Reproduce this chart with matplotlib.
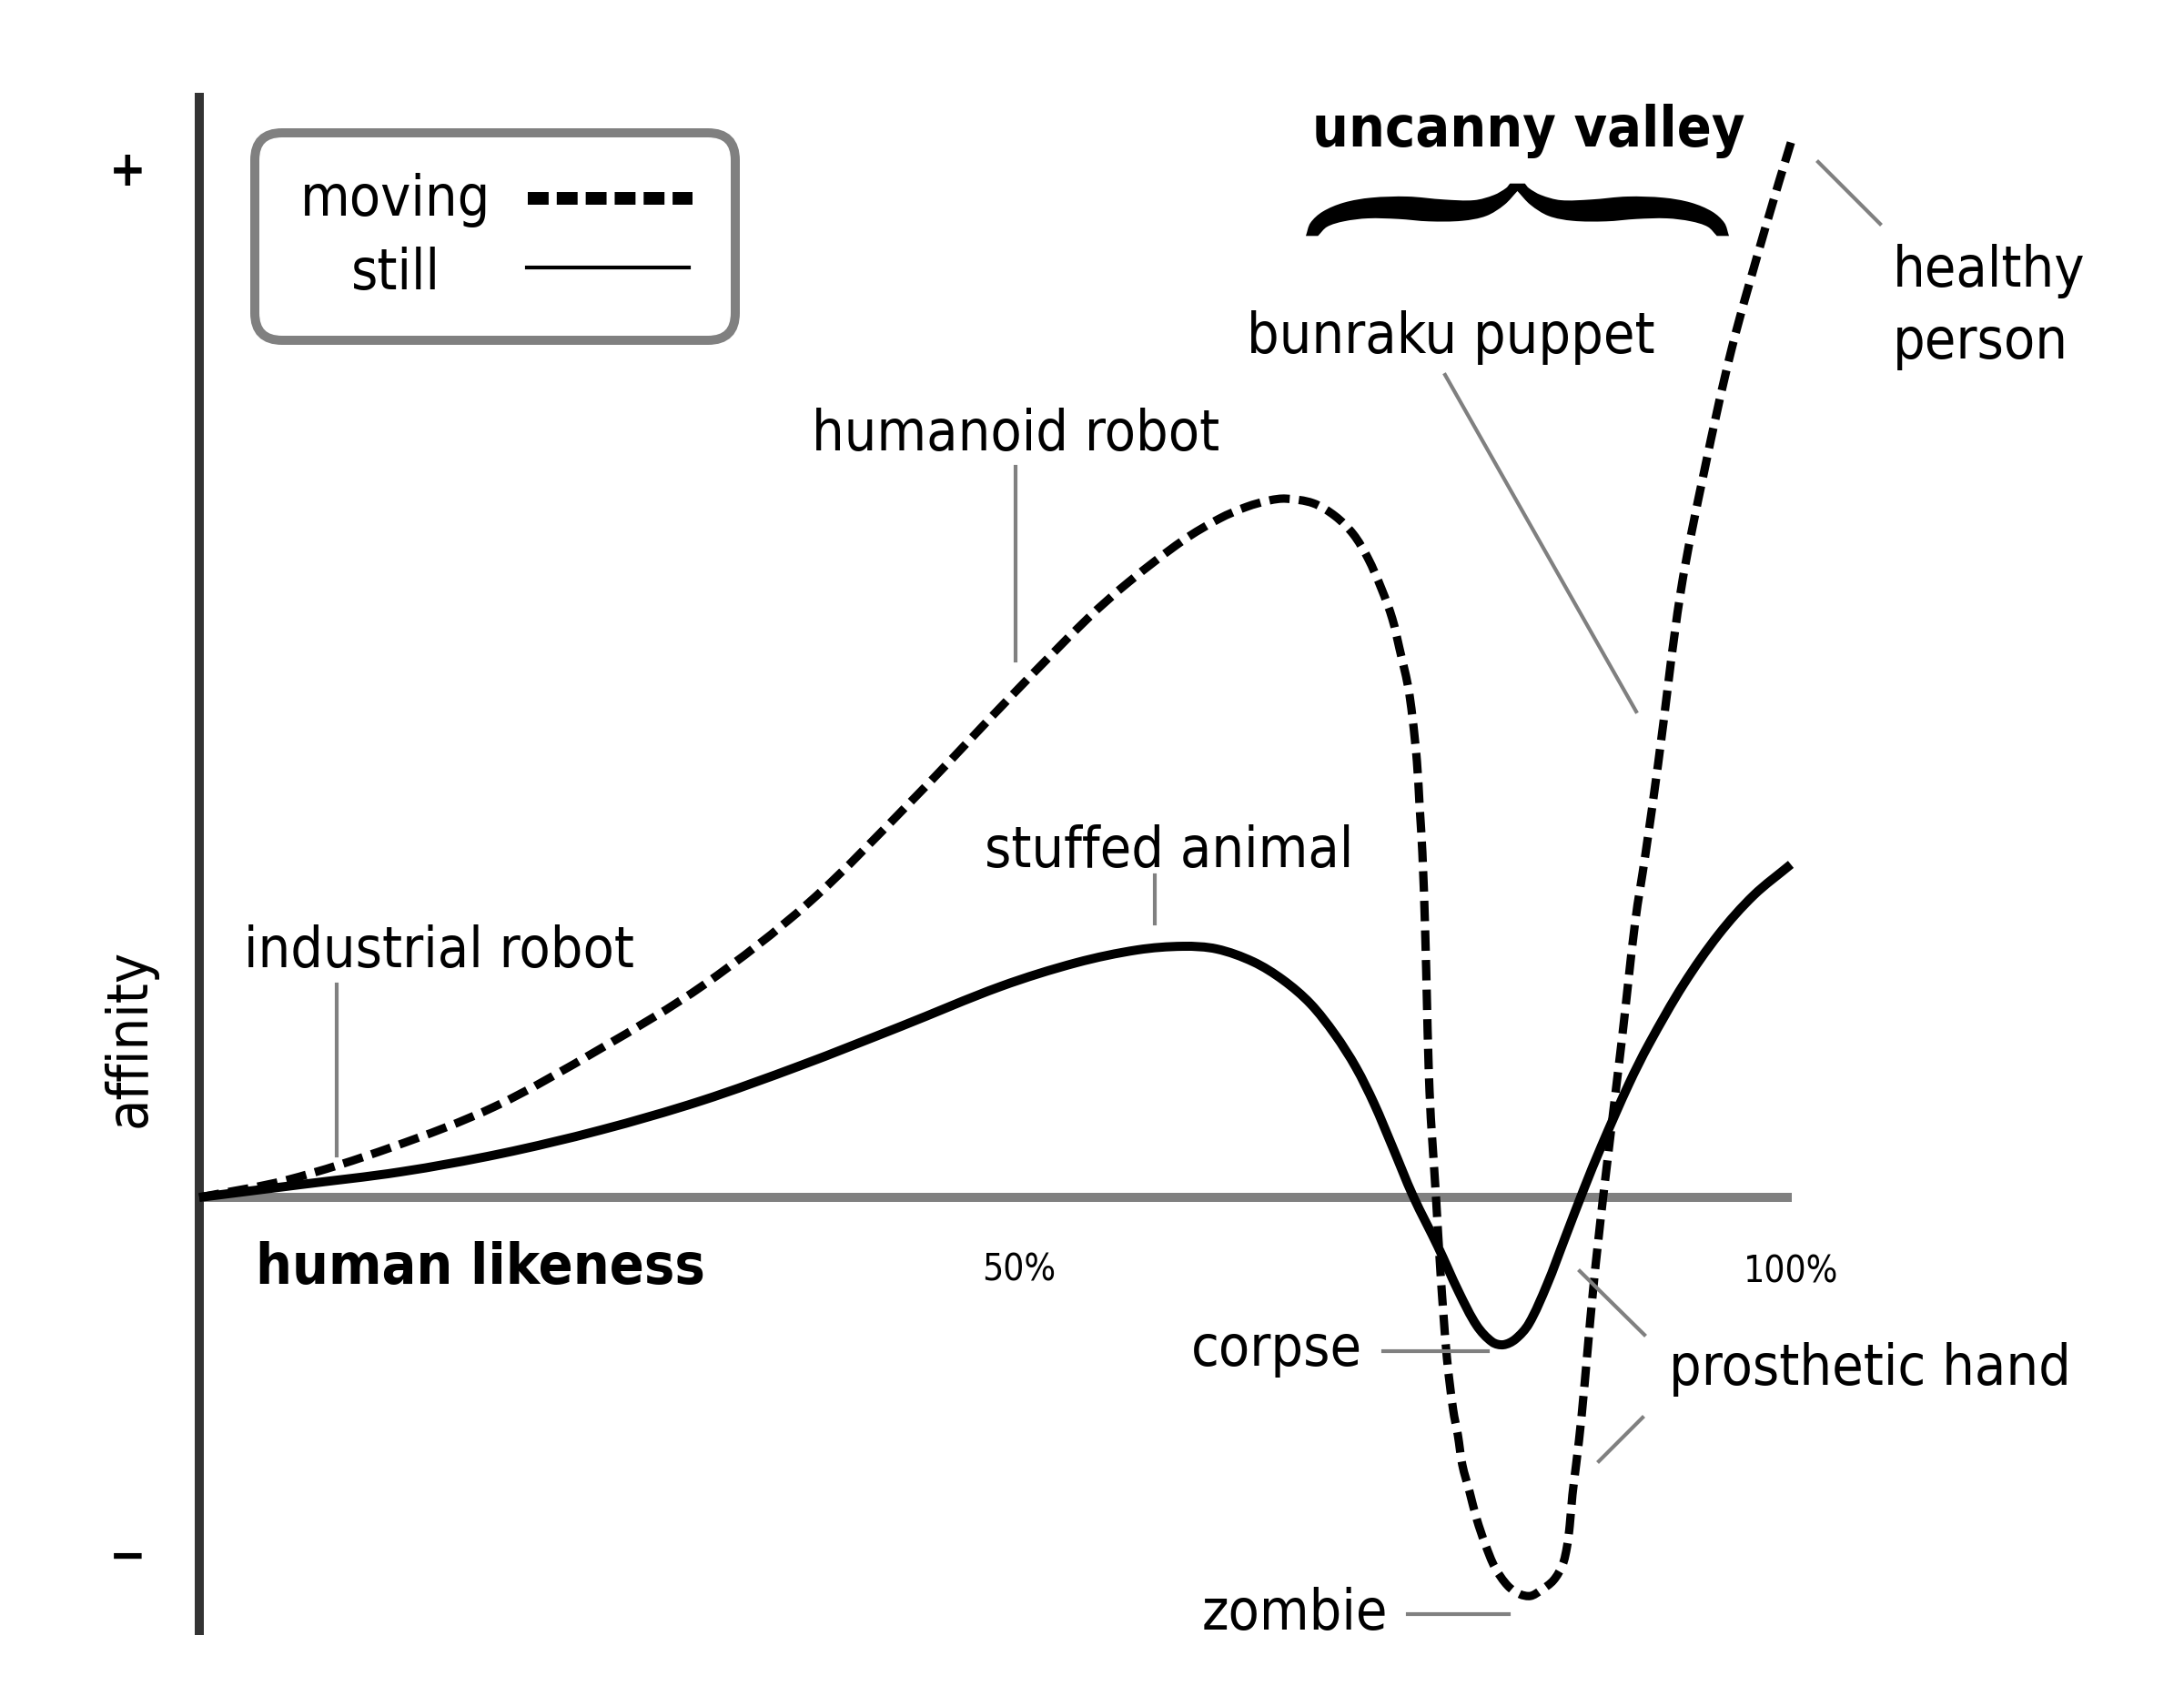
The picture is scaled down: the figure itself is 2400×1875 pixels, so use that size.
import numpy as np
import matplotlib.pyplot as plt
import matplotlib.transforms as mtransforms
from matplotlib.path import Path
from matplotlib.patches import PathPatch, FancyBboxPatch
from matplotlib.lines import Line2D

# values: human likeness (%) vs affinity (+ = 100)
moving_x = [0, 5.47, 12.02, 18.51, 25.06, 31.61, 38.15, 44.70, 51.20, 55.58,
            58.14, 61.56, 63.84, 65.55, 66.97, 68.00, 69.70, 71.07, 72.21, 73.12,
            73.98, 74.66, 75.11, 75.63, 75.91, 76.20, 76.37, 76.54, 76.71, 76.99,
            77.39, 77.68, 78.08, 78.47, 78.76, 79.04, 79.50, 79.95, 80.47, 81.09,
            81.89, 82.63, 83.31, 83.94, 84.74, 85.31, 85.59, 85.76, 85.93, 86.16,
            86.50, 87.24, 87.87, 89.01, 89.86, 90.49, 91.29, 92.71, 94.19, 95.90,
            98.01, 99.72]
moving_y = [0, 1.68, 4.86, 8.84, 14.41, 20.69, 28.65, 38.73, 49.34, 56.23,
            59.77, 63.84, 65.96, 67.11, 67.73, 67.90, 67.46, 66.22, 64.46, 62.16,
            59.15, 56.23, 53.32, 49.78, 46.77, 42.35, 37.93, 33.51, 26.17, 10.26,
            0.09, -7.43, -15.65, -20.69, -23.08, -25.99, -28.65, -31.30, -33.69, -35.99,
            -37.75, -38.55, -38.73, -38.20, -37.22, -35.72, -33.95, -31.92, -28.91, -25.99,
            -21.31, -8.75, 0.27, 15.12, 26.79, 33.24, 42.09, 58.89, 70.65, 82.49,
            94.25, 103.09]
still_x = [0, 6.32, 12.59, 18.85, 25.11, 31.38, 37.64, 43.91, 50.17, 54.90,
           58.71, 61.56, 63.67, 65.95, 67.82, 69.53, 71.07, 72.38, 73.52, 74.66,
           75.97, 77.51, 78.82, 79.95, 80.92, 81.61, 82.35, 83.20, 84.34, 85.48,
           86.62, 87.76, 89.46, 90.72, 92.88, 95.10, 97.27, 99.60]
still_y = [0, 1.24, 2.48, 4.24, 6.54, 9.37, 12.82, 16.62, 20.51, 22.81,
           24.05, 24.40, 24.14, 22.90, 21.13, 18.83, 15.83, 12.64, 9.11, 4.95,
           0.09, -4.77, -9.20, -12.47, -14.06, -14.32, -13.79, -12.29, -8.49, -3.89,
           0.71, 5.04, 11.01, 14.90, 20.69, 25.59, 29.35, 32.36]

series_names = ['moving', 'still']
example_labels = ['humanoid robot', 'industrial robot', 'stuffed animal',
                  'bunraku puppet', 'healthy', 'person', 'corpse',
                  'prosthetic hand', 'zombie']
tick_labels = ['50%', '100%']

W, H = 2400, 1875
X0, Y0 = 219, 1316          # pixel of origin
SX, SY = 17.56, 11.31       # pixels per unit

plt.rcParams['font.family'] = 'DejaVu Sans'
plt.rcParams['font.stretch'] = 'condensed'
FS = 30

fig = plt.figure(figsize=(16, 12.5), dpi=150)
ax = fig.add_axes([0, 0, 1, 1])
ax.set_xlim(-X0 / SX, (W - X0) / SX)
ax.set_ylim((Y0 - H) / SY, Y0 / SY)
ax.set_xticks([])
ax.set_yticks([])
for s in ['top', 'right']:
    ax.spines[s].set_visible(False)
ax.spines['left'].set_position(('data', 0))
ax.spines['left'].set_bounds(-42.5, 107.3)
ax.spines['left'].set_color('#333333')
ax.spines['left'].set_linewidth(4.8)
ax.spines['left'].set_zorder(2.6)
ax.spines['bottom'].set_position(('data', 0))
ax.spines['bottom'].set_bounds(0, 99.65)
ax.spines['bottom'].set_color('#808080')
ax.spines['bottom'].set_linewidth(4.8)
for s in ['left', 'bottom']:
    ax.spines[s].set_capstyle('butt')

# pixel coordinates, origin top-left, for the annotations
px = mtransforms.Affine2D().scale(1 / W, -1 / H).translate(0, 1) + fig.transFigure


def smooth(xs, ys, verts=None, codes=None, sx=1.0, sy=1.0):
    # cubic bezier through the points, tangents from chord lengths
    p = np.column_stack([xs, ys]).astype(float)
    d = np.hypot(np.diff(p[:, 0]) * sx, np.diff(p[:, 1]) * sy)
    t = np.concatenate([[0], np.cumsum(d)])
    m = np.zeros_like(p)
    m[0] = (p[1] - p[0]) / (t[1] - t[0])
    m[-1] = (p[-1] - p[-2]) / (t[-1] - t[-2])
    m[1:-1] = (p[2:] - p[:-2]) / (t[2:] - t[:-2])[:, None]
    if verts is None:
        verts, codes = [p[0]], [Path.MOVETO]
    else:
        verts.append(p[0])
        codes.append(Path.LINETO)
    for i in range(len(p) - 1):
        h = t[i + 1] - t[i]
        verts += [p[i] + m[i] * h / 3, p[i + 1] - m[i + 1] * h / 3, p[i + 1]]
        codes += [Path.CURVE4] * 3
    return verts, codes


v, c = smooth(moving_x, moving_y, sx=SX, sy=SY)
ax.add_patch(PathPatch(Path(v, c), fill=False, lw=4.4, color='black',
                       linestyle=(0, (2.45, 1.1)), capstyle='butt', zorder=3))
v, c = smooth(still_x, still_y, sx=SX, sy=SY)
ax.add_patch(PathPatch(Path(v, c), fill=False, lw=4.8, color='black',
                       capstyle='butt', joinstyle='round', zorder=3))

# legend box
fig.add_artist(FancyBboxPatch((280, 146), 528, 228, boxstyle='round,pad=0,rounding_size=30',
                              transform=px, fc='white', ec='#808080', lw=4.8))
fig.add_artist(Line2D([580, 761], [218, 218], transform=px, color='black', lw=6.7,
                      linestyle=(0, (1.64, 0.64)), solid_capstyle='butt', dash_capstyle='butt'))
fig.add_artist(Line2D([579, 757], [294, 294], transform=px, color='black', lw=2.0))
fig.text(435, 237, series_names[0], transform=px, ha='center', va='baseline', fontsize=FS)
fig.text(435, 318, series_names[1], transform=px, ha='center', va='baseline', fontsize=FS)

# axis texts
fig.text(140, 204, '+', transform=px, ha='center', va='baseline', fontsize=26, fontweight='bold')
fig.text(140, 1727, '\u2212', transform=px, ha='center', va='baseline', fontsize=26, fontweight='bold')
fig.text(143, 1141, 'affinity', transform=px, ha='center', va='center', rotation=90, fontsize=FS)
fig.text(281, 1411, 'human likeness', transform=px, ha='left', va='baseline', fontsize=30,
         fontweight='bold')
fig.text(1120, 1407, tick_labels[0], transform=px, ha='center', va='baseline', fontsize=19.5)
fig.text(1968, 1409, tick_labels[1], transform=px, ha='center', va='baseline', fontsize=19.5)
fig.text(1680, 161, 'uncanny valley', transform=px, ha='center', va='baseline', fontsize=30,
         fontweight='bold')

# example labels: (x, baseline y, alignment)
label_pos = [(1116, 495, 'center'), (482, 1063, 'center'), (1285, 953, 'center'),
             (1594, 388, 'center'), (2080, 315, 'left'), (2080, 394, 'left'),
             (1497, 1501, 'right'), (1834, 1522, 'left'), (1525, 1791, 'right')]
for name, (x, y, ha) in zip(example_labels, label_pos):
    fig.text(x, y, name, transform=px, ha=ha, va='baseline', fontsize=FS)

leaders = [((1116, 513), (1116, 726)), ((370, 1082), (370, 1270)),
           ((1269, 962), (1269, 1015)), ((1588, 412), (1798, 782)),
           ((1998, 178), (2066, 246)), ((1520, 1485), (1635, 1485)),
           ((1736, 1397), (1807, 1467)), ((1805, 1558), (1757, 1606)),
           ((1547, 1774), (1658, 1774))]
for (x1, y1), (x2, y2) in leaders:
    fig.add_artist(Line2D([x1, x2], [y1, y2], transform=px, color='#808080', lw=2.0))

# curly brace over the valley
top_l = [(1435, 259.3), (1440, 245), (1453.3, 232.7), (1476.7, 222.7), (1506.7, 217.3),
         (1546.7, 216), (1586.7, 219.3), (1620, 220), (1641.7, 214.3), (1655, 206.7),
         (1659.3, 201.7)]
inner_l = [(1667.5, 210), (1653.3, 225), (1633.3, 237.3), (1606.7, 242.7), (1570, 243.3),
           (1536.7, 240.7), (1503.3, 240), (1476.7, 243.3), (1458.3, 249.3), (1448.3, 259.3)]
mirror = lambda pts: [(3335 - x, y) for x, y in pts]
chains = [top_l, mirror(top_l)[::-1], mirror(inner_l)[::-1], inner_l]
bv, bc = None, None
for ch in chains:
    xs, ys = zip(*ch)
    bv, bc = smooth(xs, ys, bv, bc)
bv.append(bv[0])
bc.append(Path.CLOSEPOLY)
fig.add_artist(PathPatch(Path(bv, bc), transform=px, fc='black', ec='none'))

fig.savefig('out.png', dpi=150, facecolor='white')
